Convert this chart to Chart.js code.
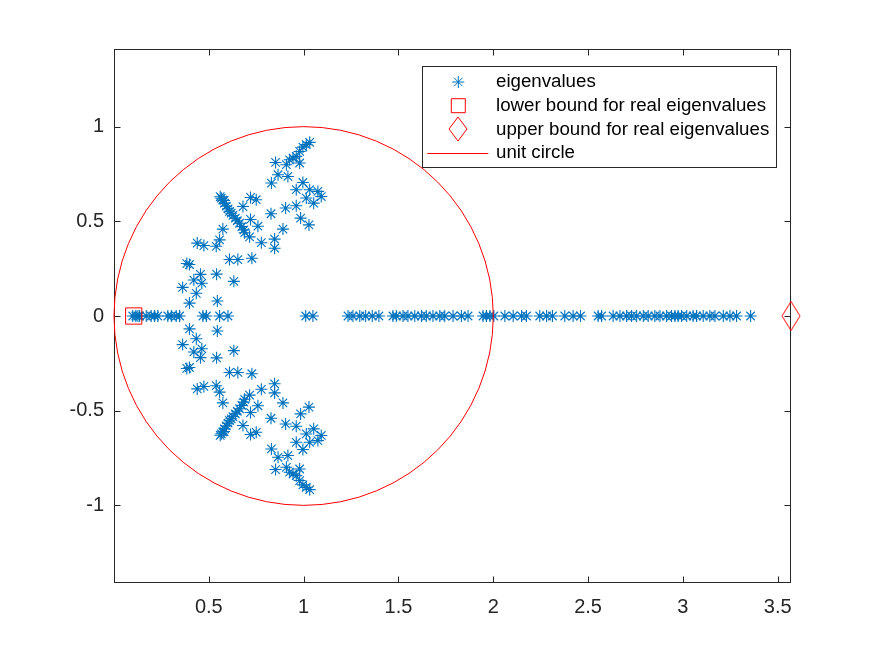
<!DOCTYPE html>
<html><head><meta charset="utf-8">
<script src="https://cdn.jsdelivr.net/npm/chart.js@4.4.0/dist/chart.umd.min.js"></script>
<style>html,body{margin:0;padding:0;background:#fff;} #wrap{width:875px;height:656px;}</style>
</head><body><div id="wrap"><canvas id="c" width="875" height="656"></canvas></div>
<script>
// ---- data ----
const realEigs = [0.099,0.115,0.126,0.135,0.170,0.196,0.214,0.231,0.284,0.302,0.328,0.346,0.469,0.487,0.557,0.601,
  1.011,1.049,1.234,1.260,1.296,1.327,1.362,1.397,1.471,1.489,1.524,1.550,1.586,1.621,1.647,1.682,1.718,1.744,
  1.788,1.832,1.867,1.946,1.964,1.982,2.003,2.061,2.105,2.149,2.175,2.245,2.281,2.312,2.377,2.421,2.460,2.553,
  2.571,2.632,2.668,2.703,2.729,2.756,2.791,2.817,2.852,2.879,2.914,2.940,2.958,2.975,2.993,3.020,3.054,3.072,
  3.107,3.142,3.169,3.213,3.248,3.283,3.357];
const cplxReUpper = [0.560,0.566,0.574,0.580,0.583,0.592,0.601,0.609,0.618,0.627,0.640,0.650,0.662,0.674,0.685,0.689,
  0.720,0.750,0.680,0.828,0.720,0.759,0.574,0.557,0.539,0.439,0.474,0.715,0.777,0.609,0.653,0.727,0.384,0.398,0.456,0.541,0.421,0.463,0.632,0.362,0.434,0.398,0.545,
  1.032,1.014,0.996,0.979,0.961,0.944,0.926,0.979,0.909,0.852,0.865,0.917,0.830,0.996,0.961,1.032,1.075,1.014,1.093,1.053,0.961,0.905,0.984,1.028,0.891,0.847,0.847];
const cplxImUpper = [0.630,0.622,0.612,0.610,0.596,0.580,0.566,0.553,0.543,0.531,0.517,0.503,0.490,0.472,0.455,0.440,
  0.626,0.614,0.578,0.540,0.510,0.474,0.459,0.402,0.368,0.385,0.372,0.418,0.387,0.298,0.298,0.305,0.277,0.272,0.220,0.221,0.190,0.173,0.183,0.151,0.120,0.068,0.079,
  0.917,0.905,0.892,0.869,0.843,0.834,0.825,0.808,0.799,0.811,0.746,0.737,0.702,0.705,0.667,0.667,0.658,0.623,0.631,0.596,0.582,0.570,0.517,0.481,0.459,0.406,0.358];
const cplxReLower = [0.560,0.566,0.574,0.580,0.583,0.592,0.601,0.609,0.618,0.627,0.640,0.650,0.662,0.674,0.685,0.689,
  0.720,0.750,0.680,0.828,0.720,0.759,0.574,0.557,0.539,0.439,0.474,0.715,0.777,0.609,0.653,0.727,0.384,0.398,0.456,0.541,0.421,0.463,0.632,0.362,0.434,0.398,0.545,
  1.032,1.014,0.996,0.979,0.961,0.944,0.926,0.979,0.909,0.852,0.865,0.917,0.830,0.996,0.961,1.032,1.075,1.014,1.093,1.053,0.961,0.905,0.984,1.028,0.891,0.847,0.847];
const cplxImLower = [-0.630,-0.622,-0.612,-0.610,-0.596,-0.580,-0.566,-0.553,-0.543,-0.531,-0.517,-0.503,-0.490,-0.472,-0.455,-0.440,
  -0.626,-0.614,-0.578,-0.540,-0.510,-0.474,-0.459,-0.402,-0.368,-0.385,-0.372,-0.418,-0.387,-0.298,-0.298,-0.305,-0.277,-0.272,-0.220,-0.221,-0.190,-0.173,-0.183,-0.151,-0.120,-0.068,-0.079,
  -0.917,-0.905,-0.892,-0.869,-0.843,-0.834,-0.825,-0.808,-0.799,-0.811,-0.746,-0.737,-0.702,-0.705,-0.667,-0.667,-0.658,-0.623,-0.631,-0.596,-0.582,-0.570,-0.517,-0.481,-0.459,-0.406,-0.358];
const lowerBound = [0.104];
const upperBound = [3.570];
const circleCenter = [1, 0];
const circleRadius = [1];
const xTicks = [0.5, 1, 1.5, 2, 2.5, 3, 3.5];
const yTicks = [-1, -0.5, 0, 0.5, 1];
const seriesNames = ['eigenvalues', 'lower bound for real eigenvalues', 'upper bound for real eigenvalues', 'unit circle'];

// ---- styles ----
const BLUE = '#0072BD', RED = '#FF0000', AX = '#262626';
const FONT = "'Liberation Sans', Arial, Helvetica, sans-serif";

function diamondCanvas(w, h, color) {
  const c = document.createElement('canvas');
  c.width = w + 2; c.height = h + 2;
  const g = c.getContext('2d');
  g.strokeStyle = color; g.lineWidth = 1;
  g.beginPath();
  g.moveTo(c.width / 2, 1); g.lineTo(c.width - 1, c.height / 2);
  g.lineTo(c.width / 2, c.height - 1); g.lineTo(1, c.height / 2);
  g.closePath(); g.stroke();
  return c;
}
const diamondPlot = diamondCanvas(18, 29, RED);
const diamondLegend = diamondCanvas(18, 24, RED);

const eigPoints = [];
realEigs.forEach(v => eigPoints.push({x: v, y: 0}));
cplxReUpper.forEach((v, i) => eigPoints.push({x: v, y: cplxImUpper[i]}));
cplxReLower.forEach((v, i) => eigPoints.push({x: v, y: cplxImLower[i]}));

const axesBox = {
  id: 'axesBox',
  beforeDatasetsDraw(chart) {
    const {ctx, chartArea: a, scales} = chart;
    ctx.save();
    ctx.strokeStyle = AX; ctx.lineWidth = 1;
    const L = Math.round(a.left) + 0.5, R = Math.round(a.right) - 0.5;
    const T = Math.round(a.top) + 0.5, B = Math.round(a.bottom) - 0.5;
    ctx.strokeRect(L, T, R - L, B - T);
    const tl = 6;
    ctx.beginPath();
    xTicks.forEach(v => {
      const p = Math.round(scales.x.getPixelForValue(v)) + 0.5;
      ctx.moveTo(p, B); ctx.lineTo(p, B - tl);
      ctx.moveTo(p, T); ctx.lineTo(p, T + tl);
    });
    yTicks.forEach(v => {
      const p = Math.round(scales.y.getPixelForValue(v)) + 0.5;
      ctx.moveTo(L, p); ctx.lineTo(L + tl, p);
      ctx.moveTo(R, p); ctx.lineTo(R - tl, p);
    });
    ctx.stroke();
    ctx.restore();
  },
  afterDatasetsDraw(chart) {
    const {ctx, scales} = chart;
    const cx = scales.x.getPixelForValue(circleCenter[0]);
    const cy = scales.y.getPixelForValue(circleCenter[1]);
    const rx = Math.abs(scales.x.getPixelForValue(circleCenter[0] + circleRadius[0]) - cx);
    const ry = Math.abs(scales.y.getPixelForValue(circleCenter[1] + circleRadius[0]) - cy);
    ctx.save();
    ctx.strokeStyle = RED; ctx.lineWidth = 1;
    ctx.beginPath();
    ctx.ellipse(cx, cy, rx, ry, 0, 0, Math.PI * 2);
    ctx.stroke();
    ctx.restore();
  },
  afterDraw(chart) {
    const {ctx, chartArea: a} = chart;
    const w = 354.3, h = 100.7;
    const left = a.right - 15 - w, top = a.top + 16.7;
    ctx.save();
    ctx.fillStyle = '#fff';
    ctx.fillRect(left, top, w, h);
    ctx.strokeStyle = AX; ctx.lineWidth = 1;
    ctx.strokeRect(Math.round(left) + 0.5, Math.round(top) + 0.5, Math.round(w), Math.round(h));
    const mx = left + 36.6, tx = left + 74.3;
    const rowY = i => top + 16.3 + i * 23.7;
    ctx.strokeStyle = BLUE; ctx.fillStyle = 'rgba(0,0,0,0)';
    Chart.helpers.drawPoint(ctx, {pointStyle: 'star', radius: 6, borderWidth: 1.1, rotation: 0}, mx, rowY(0));
    ctx.strokeStyle = RED;
    Chart.helpers.drawPoint(ctx, {pointStyle: 'rect', radius: 9.9, borderWidth: 1, rotation: 0}, mx, rowY(1));
    ctx.drawImage(diamondLegend, Math.round(mx - diamondLegend.width / 2), Math.round(rowY(2) - diamondLegend.height / 2));
    ctx.lineWidth = 1;
    ctx.beginPath();
    ctx.moveTo(left + 5.6, Math.round(rowY(3)) + 0.5);
    ctx.lineTo(left + 66.6, Math.round(rowY(3)) + 0.5);
    ctx.stroke();
    ctx.fillStyle = '#000';
    ctx.font = '18.7px ' + FONT;
    ctx.textBaseline = 'middle'; ctx.textAlign = 'left';
    seriesNames.forEach((n, i) => ctx.fillText(n, tx, rowY(i)));
    ctx.restore();
  }
};

const tickFont = {family: FONT, size: 20};
new Chart(document.getElementById('c'), {
  type: 'scatter',
  data: {
    datasets: [
      {label: seriesNames[0], data: eigPoints, pointStyle: 'star', pointRadius: 6, pointHoverRadius: 6,
       borderColor: BLUE, backgroundColor: 'rgba(0,0,0,0)', borderWidth: 1.1, clip: false, order: 3},
      {label: seriesNames[1], data: lowerBound.map(v => ({x: v, y: 0})), pointStyle: 'rect', pointRadius: 11.5,
       pointHoverRadius: 11.5, borderColor: RED, backgroundColor: 'rgba(0,0,0,0)', borderWidth: 1, clip: false, order: 2},
      {label: seriesNames[2], data: upperBound.map(v => ({x: v, y: 0})), pointStyle: diamondPlot, pointRadius: 10,
       borderColor: RED, backgroundColor: 'rgba(0,0,0,0)', borderWidth: 1, clip: false, order: 1}
    ]
  },
  options: {
    responsive: false, animation: false, devicePixelRatio: 1, events: [],
    layout: {padding: {left: 0, top: 49, right: 84, bottom: 0}},
    plugins: {legend: {display: false}, tooltip: {enabled: false}},
    scales: {
      x: {type: 'linear', min: 0, max: 3.57,
          grid: {display: false, drawTicks: false}, border: {display: false},
          ticks: {font: tickFont, color: AX, padding: 12, maxRotation: 0, callback: v => String(v)},
          afterBuildTicks: s => { s.ticks = xTicks.map(v => ({value: v})); },
          afterFit: s => { s.height = 73; }},
      y: {type: 'linear', min: -1.41, max: 1.41,
          grid: {display: false, drawTicks: false}, border: {display: false},
          ticks: {font: tickFont, color: AX, padding: 10, callback: v => String(v)},
          afterBuildTicks: s => { s.ticks = yTicks.map(v => ({value: v})); },
          afterFit: s => { s.width = 114; }}
    }
  },
  plugins: [axesBox]
});
</script>
</body></html>
